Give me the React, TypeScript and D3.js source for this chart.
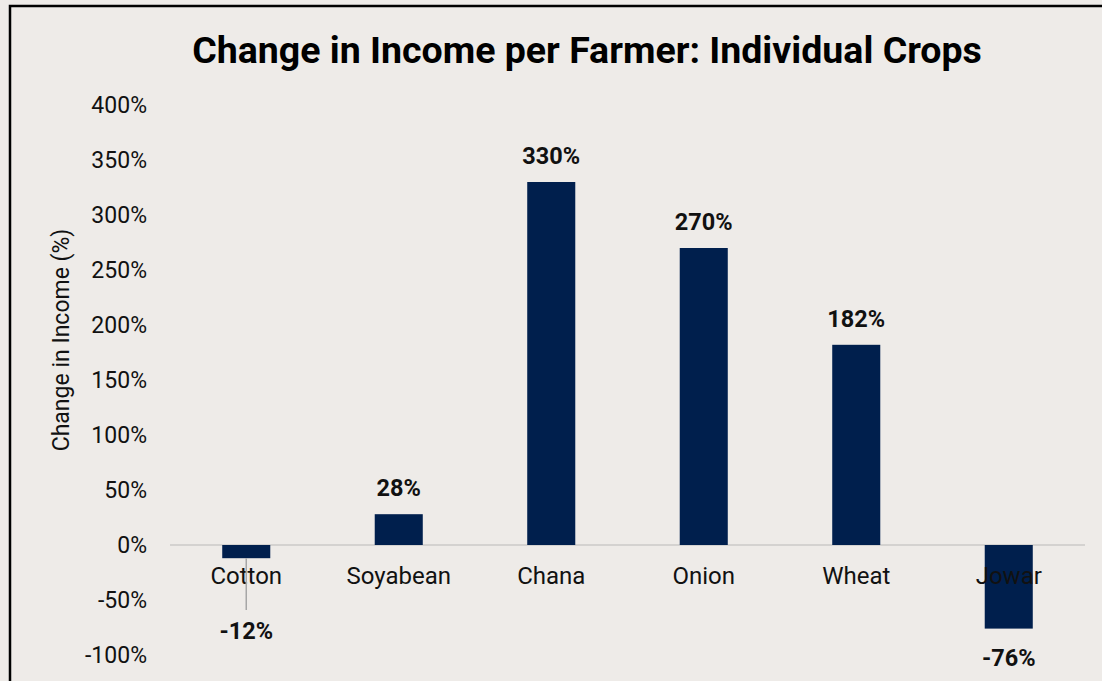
import React from "react";
import * as d3 from "d3";

const categories = ["Cotton", "Soyabean", "Chana", "Onion", "Wheat", "Jowar"];
const values = [-12, 28, 330, 270, 182, -76];
const valueLabels = ["-12%", "28%", "330%", "270%", "182%", "-76%"];
const yTicks = [-100, -50, 0, 50, 100, 150, 200, 250, 300, 350, 400];

const W = 1102;
const H = 681;
const FONT = "Roboto, 'Noto Sans', sans-serif";

export default function App() {
  const x = d3.scaleBand<string>().domain(categories).range([170, 1085]).paddingInner(0.685).paddingOuter(0.3425);
  const y = d3.scaleLinear().domain([-100, 400]).range([655, 105]);
  const y0 = y(0);

  return (
    <svg
      width={W}
      height={H}
      style={{ position: "absolute", left: 0, top: 0, display: "block" }}
      fontFamily={FONT}
    >
      <rect x={0} y={0} width={W} height={H} fill="#EEEBE8" />
      <rect x={10} y={6} width={W + 20} height={H + 20} fill="none" stroke="#000" strokeWidth={2.5} />
      <text x={587} y={63} textAnchor="middle" fontSize={37.5} fontWeight={700} fill="#000">
        Change in Income per Farmer: Individual Crops
      </text>
      <text
        transform={`translate(69,${340}) rotate(-90)`}
        textAnchor="middle"
        fontSize={23}
        fill="#111"
      >
        Change in Income (%)
      </text>
      {yTicks.map((t) => (
        <text key={t} x={147} y={y(t)} dy="0.36em" textAnchor="end" fontSize={23} fill="#111">
          {t}%
        </text>
      ))}
      <line x1={170} x2={1085} y1={y0} y2={y0} stroke="#D4D2D0" strokeWidth={2} />
      {categories.map((c, i) => {
        const v = values[i];
        const bx = x(c)!;
        const bw = x.bandwidth();
        const top = Math.min(y(v), y0);
        const h = Math.abs(y(v) - y0);
        return (
          <g key={c}>
            <rect x={bx} y={top} width={bw} height={h} fill="#001F4D" />
          </g>
        );
      })}
      {categories.map((c, i) => {
        const cx = x(c)! + x.bandwidth() / 2;
        return (
          <text key={c} x={cx} y={584} textAnchor="middle" fontSize={24} fill="#111">
            {c}
          </text>
        );
      })}
      {categories.map((c, i) => {
        const v = values[i];
        const cx = x(c)! + x.bandwidth() / 2;
        if (v >= 0) {
          return (
            <text key={c} x={cx} y={y(v) - 18} textAnchor="middle" fontSize={23.5} fontWeight={700} fill="#111">
              {valueLabels[i]}
            </text>
          );
        }
        const isShort = y(v) - y0 < 40;
        const ly = isShort ? 639 : y(v) + 37;
        return (
          <g key={c}>
            {isShort && (
              <line x1={cx} x2={cx} y1={y(v)} y2={610} stroke="#A6A6A6" strokeWidth={1.5} />
            )}
            <text x={cx} y={ly} textAnchor="middle" fontSize={23.5} fontWeight={700} fill="#111">
              {valueLabels[i]}
            </text>
          </g>
        );
      })}
    </svg>
  );
}
